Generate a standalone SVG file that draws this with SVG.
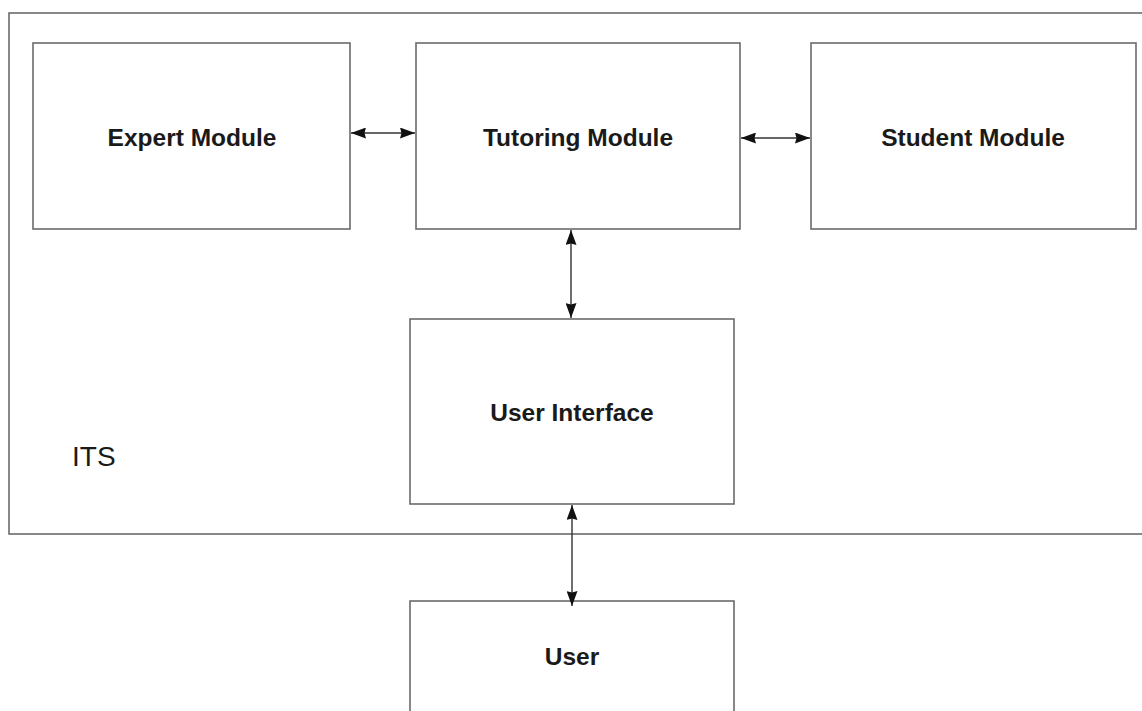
<svg xmlns="http://www.w3.org/2000/svg" width="1142" height="711" viewBox="0 0 1142 711">
  <style>
    .box { fill: #ffffff; stroke: #6b6b6b; stroke-width: 1.6; }
    .lbl { font-family: "Liberation Sans", Arial, sans-serif; font-weight: bold; font-size: 24.5px; fill: #1a1a1a; text-anchor: middle; }
    .its { font-family: "Liberation Sans", Arial, sans-serif; font-size: 28px; fill: #1a1a1a; }
    .conn { stroke: #333333; stroke-width: 1.4; fill: none; marker-start: url(#ah); marker-end: url(#ah); }
  </style>
  <defs>
    <marker id="ah" viewBox="0 0 15 11" refX="15" refY="5.5" markerWidth="15" markerHeight="11" markerUnits="userSpaceOnUse" orient="auto-start-reverse">
      <path d="M0,0 L15,5.5 L0,11 L1.5,5.5 z" fill="#111111"/>
    </marker>
  </defs>
  <rect width="1142" height="711" fill="#ffffff"/>
  <g id="its">
    <rect class="box" x="9" y="13" width="1150" height="521"/>
    <text class="its" x="72" y="466">ITS</text>
  </g>
  <g id="expert">
    <rect class="box" x="33" y="43" width="317" height="186"/>
    <text class="lbl" x="192" y="146">Expert Module</text>
  </g>
  <g id="tutoring">
    <rect class="box" x="416" y="43" width="324" height="186"/>
    <text class="lbl" x="578" y="146">Tutoring Module</text>
  </g>
  <g id="student">
    <rect class="box" x="811" y="43" width="325" height="186"/>
    <text class="lbl" x="973" y="146">Student Module</text>
  </g>
  <g id="ui">
    <rect class="box" x="410" y="319" width="324" height="185"/>
    <text class="lbl" x="572" y="421">User Interface</text>
  </g>
  <g id="user">
    <rect class="box" x="410" y="601" width="324" height="130"/>
    <text class="lbl" x="572" y="665">User</text>
  </g>
  <g id="connectors">
    <line class="conn" x1="351" y1="133" x2="415" y2="133"/>
    <line class="conn" x1="741" y1="138" x2="810" y2="138"/>
    <line class="conn" x1="571" y1="230" x2="571" y2="318"/>
    <line class="conn" x1="572" y1="505" x2="572" y2="606"/>
  </g>
</svg>
